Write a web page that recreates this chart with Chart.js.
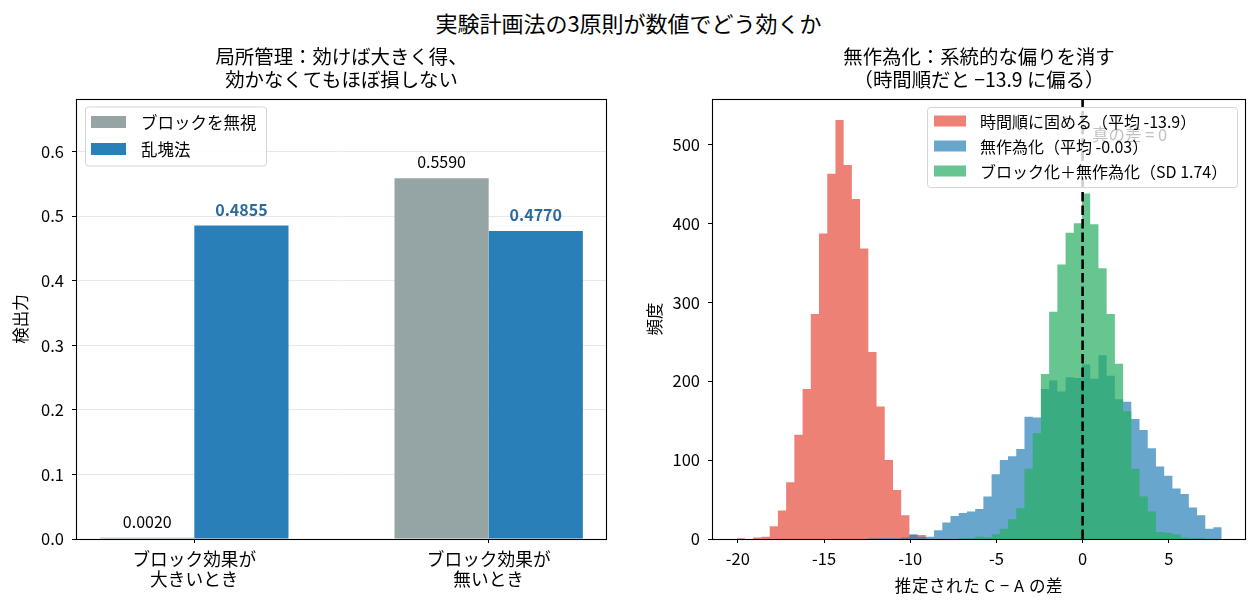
<!DOCTYPE html>
<html>
<head>
<meta charset="utf-8">
<script src="https://cdn.jsdelivr.net/npm/chart.js@4.4.1/dist/chart.umd.min.js"></script>
<style>
  body { margin: 0; background: #fff; width: 1257px; height: 608px; position: relative; overflow: hidden; }
  #suptitle { position: absolute; top: 6px; left: 0; width: 1257px; text-align: center;
              font: 22px/32px "Noto Sans CJK JP", sans-serif; color: #000; }
  canvas { position: absolute; top: 0; }
</style>
</head>
<body>
<div id="suptitle">実験計画法の3原則が数値でどう効くか</div>
<canvas id="left" width="640" height="608" style="left:0"></canvas>
<canvas id="right" width="617" height="608" style="left:640px"></canvas>
<script>
// --- left panel: power by design ---
const groupLabels = [["ブロック効果が", "大きいとき"], ["ブロック効果が", "無いとき"]];
const barNames = ["ブロックを無視", "乱塊法"];
const powerIgnore = [0.0020, 0.5590];
const powerRBD = [0.4855, 0.4770];
const powerTicks = [0, 0.1, 0.2, 0.3, 0.4, 0.5, 0.6];

// --- right panel: histogram of estimated C - A (59 shared bins) ---
const histNames = ["時間順に固める（平均 -13.9）", "無作為化（平均 -0.03）", "ブロック化＋無作為化（SD 1.74）"];
const binStart = -20.06;
const binWidth = 0.4768;
const countTimeOrder = [1, 0, 2, 3, 16, 36, 72, 132, 190, 285, 387, 463, 531, 474, 431, 368, 237, 168, 100, 62,
  30, 5, 5, 0, 0, 0, 0, 0, 0, 0, 0, 0, 0, 0, 0, 0, 0, 0, 0, 0,
  0, 0, 0, 0, 0, 0, 0, 0, 0, 0, 0, 0, 0, 0, 0, 0, 0, 0, 0];
const countRandom = [0, 0, 0, 0, 0, 0, 0, 0, 0, 0, 0, 0, 0, 0, 0, 0, 1, 1, 1, 1,
  2, 6, 3, 3, 11, 21, 29, 33, 35, 38, 54, 82, 100, 105, 114, 155, 154, 190, 201, 187,
  205, 204, 221, 203, 233, 207, 177, 174, 152, 138, 115, 92, 80, 64, 57, 40, 30, 13, 15];
const countBlockRandom = [0, 0, 0, 0, 0, 0, 0, 0, 0, 0, 0, 0, 0, 0, 0, 0, 0, 0, 0, 0,
  0, 0, 0, 0, 0, 0, 0, 1, 1, 3, 2, 6, 13, 25, 39, 89, 134, 209, 288, 348,
  388, 400, 438, 399, 343, 285, 222, 162, 89, 54, 35, 9, 8, 6, 2, 1, 1, 0, 0];
const diffTicks = [-20, -15, -10, -5, 0, 5];
const freqTicks = [0, 100, 200, 300, 400, 500];
const trueDiff = 0;

const FONT = '"Noto Sans CJK JP", sans-serif';
Chart.defaults.font.family = FONT;
Chart.defaults.color = "#000";

// step outline of a histogram: one point per left bin edge, closed at the last right edge
function histSteps(counts) {
  const pts = counts.map((c, i) => ({ x: binStart + i * binWidth, y: c }));
  pts.push({ x: binStart + counts.length * binWidth, y: 0 });
  return pts;
}

function drawLegendBox(ctx, x, y, w, h) {
  ctx.beginPath();
  ctx.roundRect(x + 0.5, y + 0.5, w, h, 3);
  ctx.fillStyle = "rgba(255,255,255,0.8)";
  ctx.fill();
  ctx.strokeStyle = "#d5d5d5";
  ctx.lineWidth = 1;
  ctx.stroke();
}

function drawLegendRows(ctx, x, y, rows, opt) {
  ctx.font = opt.size + "px " + FONT;
  ctx.textBaseline = "middle";
  ctx.textAlign = "left";
  rows.forEach((r, i) => {
    const cy = y + opt.first + i * opt.step;
    ctx.fillStyle = r.color;
    ctx.fillRect(x + opt.patchX, cy - opt.patchH / 2, opt.patchW, opt.patchH);
    ctx.fillStyle = "#000";
    ctx.fillText(r.label, x + opt.textX, cy + 1);
  });
}

function drawTitles(ctx, a, lines, yTitle, yTitleX, xTitle) {
  const cx = (a.left + a.right) / 2;
  ctx.fillStyle = "#000";
  ctx.textAlign = "center";
  ctx.textBaseline = "middle";
  ctx.font = "19.4px " + FONT;
  ctx.fillText(lines[0], cx, a.top - 42);
  ctx.fillText(lines[1], cx, a.top - 19);
  ctx.font = "16.5px " + FONT;
  ctx.save();
  ctx.translate(yTitleX, (a.top + a.bottom) / 2);
  ctx.rotate(-Math.PI / 2);
  ctx.fillText(yTitle, 0, 0);
  ctx.restore();
  if (xTitle) {
    ctx.letterSpacing = "0.6px";
    ctx.fillText(xTitle, cx, a.bottom + 47);
    ctx.letterSpacing = "0px";
  }
}

function drawFrame(ctx, a) {
  ctx.strokeStyle = "#000";
  ctx.lineWidth = 1.1;
  ctx.setLineDash([]);
  ctx.strokeRect(Math.round(a.left) + 0.5, Math.round(a.top) + 0.5,
    Math.round(a.right - a.left) - 1, Math.round(a.bottom - a.top));
}

const leftDecor = {
  id: "leftDecor",
  afterDatasetsDraw(chart) {
    const ctx = chart.ctx;
    const a = chart.chartArea;
    ctx.save();
    // value labels above bars
    [0, 1].forEach(d => {
      chart.getDatasetMeta(d).data.forEach((bar, i) => {
        const v = chart.data.datasets[d].data[i].y;
        ctx.textAlign = "center";
        ctx.textBaseline = "alphabetic";
        if (d === 0) {
          ctx.font = "16px " + FONT;
          ctx.fillStyle = "#000";
        } else {
          ctx.font = "bold 16px " + FONT;
          ctx.fillStyle = "#2b6a9a";
        }
        ctx.fillText(v.toFixed(4), bar.x, bar.y - 10);
      });
    });
    const lx = a.left + 9, ly = a.top + 7.5;
    drawLegendBox(ctx, lx, ly, 181, 59);
    drawLegendRows(ctx, lx, ly, [
      { label: barNames[0], color: "#95a5a6" },
      { label: barNames[1], color: "#2980b9" }
    ], { size: 16.5, first: 15.5, step: 27, patchX: 6, patchW: 35, patchH: 12, textX: 56 });
    drawTitles(ctx, a, ["局所管理：効けば大きく得、", "効かなくてもほぼ損しない"], "検出力", 21, null);
    drawFrame(ctx, a);
    ctx.restore();
  }
};

const rightDecor = {
  id: "rightDecor",
  afterDatasetsDraw(chart) {
    const ctx = chart.ctx;
    const a = chart.chartArea;
    const { x, y } = chart.scales;
    ctx.save();
    const x0 = x.getPixelForValue(trueDiff);
    ctx.strokeStyle = "#000";
    ctx.lineWidth = 2.6;
    ctx.setLineDash([9.5, 4]);
    ctx.beginPath();
    ctx.moveTo(x0, a.bottom);
    ctx.lineTo(x0, a.top);
    ctx.stroke();
    ctx.setLineDash([]);
    const lw = 310, lh = 80;
    const lx = a.right - 9 - lw, ly = a.top + 8;
    drawLegendBox(ctx, lx, ly, lw, lh);
    ctx.font = "16.5px " + FONT;
    ctx.fillStyle = "#c2c2c2";
    ctx.textAlign = "left";
    ctx.textBaseline = "middle";
    ctx.fillText("真の差 = 0", x.getPixelForValue(0.55), y.getPixelForValue(512));
    drawLegendRows(ctx, lx, ly, [
      { label: histNames[0], color: "rgba(231,76,60,0.7)" },
      { label: histNames[1], color: "rgba(41,128,185,0.7)" },
      { label: histNames[2], color: "rgba(39,174,96,0.7)" }
    ], { size: 16, first: 14, step: 25, patchX: 7, patchW: 32, patchH: 11, textX: 53 });
    drawTitles(ctx, a, ["無作為化：系統的な偏りを消す", "（時間順だと −13.9 に偏る）"], "頻度", 15, "推定された C − A の差");
    drawFrame(ctx, a);
    ctx.restore();
  }
};

new Chart(document.getElementById("left"), {
  type: "bar",
  data: {
    datasets: [
      { label: barNames[0], data: powerIgnore.map((v, i) => ({ x: i, y: v })), backgroundColor: "#95a5a6" },
      { label: barNames[1], data: powerRBD.map((v, i) => ({ x: i, y: v })), backgroundColor: "#2980b9" }
    ]
  },
  options: {
    responsive: false,
    animation: false,
    layout: { padding: { left: 12, right: 33, top: 99, bottom: 9 } },
    datasets: { bar: { categoryPercentage: 0.64, barPercentage: 1, borderWidth: 0, inflateAmount: 0 } },
    plugins: { legend: { display: false }, tooltip: { enabled: false } },
    scales: {
      x: {
        type: "linear", min: -0.402, max: 1.402, offset: false,
        afterBuildTicks: ax => { ax.ticks = [0, 1].map(v => ({ value: v })); },
        ticks: { callback: v => groupLabels[v], font: { size: 17.7, lineHeight: 1.15 }, padding: 6, maxRotation: 0, autoSkip: false },
        grid: { drawOnChartArea: false, tickLength: 4, tickColor: "#000", offset: false },
        border: { display: false },
        afterFit: ax => { ax.height = 60; }
      },
      y: {
        min: 0, max: 0.6816,
        afterBuildTicks: ax => { ax.ticks = powerTicks.map(v => ({ value: v })); },
        ticks: { callback: v => v.toFixed(1), font: { size: 16.5 }, padding: 8 },
        grid: { color: "#e8e8e8", tickColor: "#000", tickLength: 4 },
        border: { display: false },
        afterFit: ax => { ax.width = 64; }
      }
    }
  },
  plugins: [leftDecor]
});

const histStyle = { stepped: true, fill: "origin", borderWidth: 0, pointRadius: 0, tension: 0 };

new Chart(document.getElementById("right"), {
  type: "line",
  data: {
    datasets: [
      { label: histNames[0], data: histSteps(countTimeOrder), backgroundColor: "rgba(231,76,60,0.7)", order: 3, ...histStyle },
      { label: histNames[1], data: histSteps(countRandom), backgroundColor: "rgba(41,128,185,0.7)", order: 2, ...histStyle },
      { label: histNames[2], data: histSteps(countBlockRandom), backgroundColor: "rgba(39,174,96,0.7)", order: 1, ...histStyle }
    ]
  },
  options: {
    responsive: false,
    animation: false,
    layout: { padding: { left: 3, right: 11, top: 99, bottom: 9 } },
    plugins: { legend: { display: false }, tooltip: { enabled: false } },
    scales: {
      x: {
        type: "linear", min: -21.5, max: 9.48, offset: false,
        afterBuildTicks: ax => { ax.ticks = diffTicks.map(v => ({ value: v })); },
        ticks: { callback: v => String(v), font: { size: 16.5 }, padding: 6, maxRotation: 0, autoSkip: false },
        grid: { drawOnChartArea: false, tickLength: 4, tickColor: "#000", offset: false },
        border: { display: false },
        afterFit: ax => { ax.height = 60; }
      },
      y: {
        min: 0, max: 557.6,
        afterBuildTicks: ax => { ax.ticks = freqTicks.map(v => ({ value: v })); },
        ticks: { font: { size: 16.5 }, padding: 8 },
        grid: { drawOnChartArea: false, tickColor: "#000", tickLength: 4 },
        border: { display: false },
        afterFit: ax => { ax.width = 69; }
      }
    }
  },
  plugins: [rightDecor]
});
</script>
</body>
</html>
